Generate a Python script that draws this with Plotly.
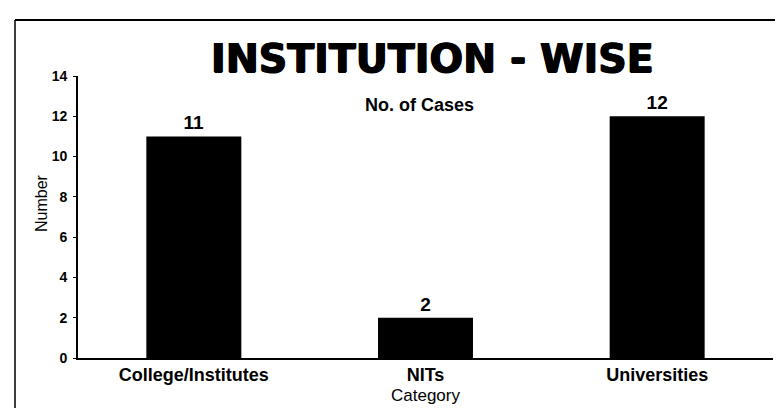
import plotly.graph_objects as go

categories = ["College/Institutes", "NITs", "Universities"]
cases = [11, 2, 12]
y_ticks = [0, 2, 4, 6, 8, 10, 12, 14]

W, H = 783, 408
L, R, T, B = 70, 18, 68, 58
pw, ph = W - L - R, H - T - B

def px_x(x):
    return (x - L) / pw

def px_y(y):
    return (H - B - y) / ph

fig = go.Figure()
fig.add_trace(go.Bar(
    x=categories, y=cases, width=0.41,
    marker=dict(color="black", line=dict(width=0)),
    text=[str(v) for v in cases], textposition="outside",
    textfont=dict(family="Liberation Sans", size=19, color="black", weight="bold"),
    cliponaxis=False,
))

fig.update_layout(
    width=W, height=H,
    margin=dict(l=L, r=R, t=T, b=B, autoexpand=False),
    paper_bgcolor="white", plot_bgcolor="white",
    showlegend=False,
    bargap=0.59,
    xaxis=dict(
        showline=True, linecolor="black", linewidth=1.5,
        ticks="", showgrid=False, automargin=False,
        tickfont=dict(family="Liberation Sans", size=18, color="black", weight="bold"),
    ),
    yaxis=dict(
        range=[0, 14], tickvals=y_ticks, automargin=False,
        showline=True, linecolor="black", linewidth=1.8,
        ticks="outside", ticklen=3, tickcolor="black", ticklabelstandoff=3,
        showgrid=False, zeroline=False,
        tickfont=dict(family="Liberation Sans", size=14, color="black", weight="bold"),
    ),
    annotations=[
        dict(text="INSTITUTION - WISE", xref="paper", yref="paper",
             x=px_x(424), y=px_y(50), showarrow=False,
             xanchor="center", yanchor="middle",
             font=dict(family="DejaVu Sans", size=39.5, color="black", weight="bold",
                       shadow="0.7px 0 0 black, -0.7px 0 0 black, 0 0.5px 0 black")),
        dict(text="No. of Cases", xref="paper", yref="paper",
             x=px_x(411), y=px_y(97), showarrow=False,
             xanchor="center", yanchor="middle",
             font=dict(family="Liberation Sans", size=18, color="black", weight="bold")),
        dict(text="Number", xref="paper", yref="paper",
             x=px_x(33), y=px_y(195), showarrow=False, textangle=-90,
             xanchor="center", yanchor="middle",
             font=dict(family="Liberation Sans", size=16, color="black")),
        dict(text="Category", xref="paper", yref="paper",
             x=px_x(417), y=px_y(387), showarrow=False,
             xanchor="center", yanchor="middle",
             font=dict(family="Liberation Sans", size=17, color="black")),
    ],
    shapes=[
        dict(type="line", xref="paper", yref="paper",
             x0=px_x(7), x1=px_x(783), y0=px_y(12), y1=px_y(12),
             line=dict(color="black", width=2)),
        dict(type="line", xref="paper", yref="paper",
             x0=px_x(7), x1=px_x(7), y0=px_y(12), y1=px_y(406),
             line=dict(color="black", width=1.5)),
        dict(type="line", xref="paper", yref="paper",
             x0=px_x(540), x1=px_x(783), y0=px_y(401), y1=px_y(401),
             line=dict(color="black", width=1.5)),
    ],
)

fig.write_html("out.html")
